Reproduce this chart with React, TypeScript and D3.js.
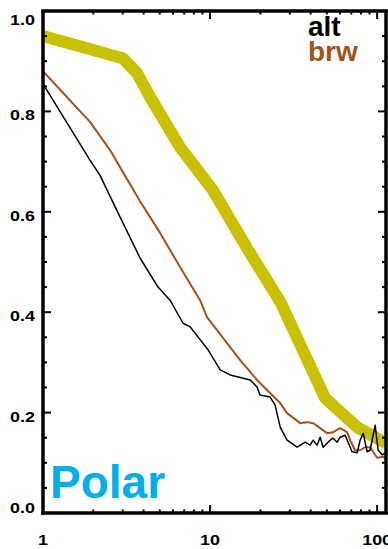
import React from 'react';
import * as d3 from 'd3';

const W = 388;
const H = 549;

// Thick reference band
const bandX = [1, 3.0, 3.66, 4.37, 6.6, 10.4, 16.9, 26.6, 48.8, 75.9, 113];
const bandY = [0.95, 0.906, 0.876, 0.829, 0.729, 0.643, 0.524, 0.418, 0.229, 0.171, 0.139];

// alt series
const altX = [1, 1.91, 2.19, 2.89, 3.81, 4.88, 5.76, 6.89, 7.59, 9.73, 11.5, 13.2, 17.4, 19.1, 19.9, 22.9, 24.5, 26.3, 28.9, 33.2, 37.1, 39.7, 41.4, 43.7, 45.6, 47.5, 52.3, 54.5, 57.6, 60.0, 64.3, 67.0, 70.8, 75.9, 79.1, 82.5, 87.1, 90.8, 97.3, 101.4, 107.2, 114.8];
const altY = [0.855, 0.703, 0.673, 0.59, 0.508, 0.45, 0.424, 0.378, 0.371, 0.325, 0.285, 0.275, 0.265, 0.251, 0.235, 0.231, 0.215, 0.171, 0.145, 0.131, 0.141, 0.135, 0.145, 0.135, 0.151, 0.131, 0.145, 0.149, 0.141, 0.151, 0.155, 0.141, 0.122, 0.12, 0.145, 0.159, 0.122, 0.125, 0.175, 0.125, 0.116, 0.12];

// brw series
const brwX = [1, 1.91, 2.52, 2.89, 3.81, 5.02, 6.61, 8.71, 9.59, 12.6, 15.1, 19.1, 21.9, 26.3, 28.9, 34.6, 38.1, 41.4, 50.2, 54.5, 60.0, 66.1, 68.9, 73.8, 79.1, 84.7, 90.8, 100, 108.6, 114.8];
const brwY = [0.88, 0.779, 0.723, 0.689, 0.621, 0.558, 0.49, 0.424, 0.39, 0.339, 0.305, 0.265, 0.245, 0.219, 0.199, 0.179, 0.181, 0.179, 0.159, 0.161, 0.169, 0.161, 0.145, 0.125, 0.125, 0.131, 0.131, 0.11, 0.112, 0.106];

const yMajor = [0, 0.2, 0.4, 0.6, 0.8, 1.0];
const yMinor = d3.range(0, 1.0001, 0.05);
const xMajor = [1, 10, 100];
const xMinor = [2, 3, 4, 5, 6, 7, 8, 9, 20, 30, 40, 50, 60, 70, 80, 90];

const seriesNames = ['alt', 'brw'];
const seriesColors = ['#000000', '#a3521c'];
const bandColor = '#c8c000';
const titleText = 'Polar';

const left = 43;
const right = 386;
const top = 11;
const bottom = 513;

export default function App() {
  const x = d3.scaleLog().domain([1, 113]).range([left, right]);
  const y = d3.scaleLinear().domain([0, 1]).range([bottom, top]);

  const line = d3
    .line<[number, number]>()
    .x((d) => x(d[0]))
    .y((d) => y(d[1]));

  const zip = (a: number[], b: number[]) => a.map((v, i) => [v, b[i]] as [number, number]);

  const font = '"Liberation Sans", Arial, Helvetica, sans-serif';
  const isMajorY = (v: number) => yMajor.some((m) => Math.abs(m - v) < 1e-6);

  return (
    <svg
      width={W}
      height={H}
      style={{ position: 'absolute', left: 0, top: 0, background: '#fff' }}
    >
      <defs>
        <clipPath id="plot">
          <rect x={left} y={0} width={W - left} height={bottom} />
        </clipPath>
      </defs>

      <g clipPath="url(#plot)">
        <path
          d={line(zip(bandX, bandY)) || ''}
          fill="none"
          stroke={bandColor}
          strokeWidth={12}
          strokeLinejoin="round"
        />
        <path
          d={line(zip(brwX, brwY)) || ''}
          fill="none"
          stroke={seriesColors[1]}
          strokeWidth={2}
          strokeLinejoin="round"
        />
        <path
          d={line(zip(altX, altY)) || ''}
          fill="none"
          stroke={seriesColors[0]}
          strokeWidth={1.5}
          strokeLinejoin="round"
        />
      </g>

      {/* frame */}
      <g stroke="#000" strokeWidth={3.5} fill="none">
        <line x1={left} x2={left} y1={top} y2={bottom + 1.75} />
        <line x1={right} x2={right} y1={top} y2={bottom} />
        <line x1={left - 1.75} x2={right + 2} y1={top} y2={top} />
        <line x1={left - 1.75} x2={right + 2} y1={bottom} y2={bottom} />
      </g>

      {/* y ticks, left and right */}
      <g stroke="#000" strokeWidth={2}>
        {yMinor.map((v, i) => {
          const len = isMajorY(v) ? 8 : 4;
          return (
            <g key={i}>
              <line x1={left} x2={left + len} y1={y(v)} y2={y(v)} />
              <line x1={right} x2={right - len} y1={y(v)} y2={y(v)} />
            </g>
          );
        })}
      </g>

      {/* x ticks, bottom and top */}
      <g stroke="#000" strokeWidth={2}>
        {xMajor.concat(xMinor).map((v, i) => {
          const len = xMajor.includes(v) ? 8 : 3.5;
          return (
            <g key={i}>
              <line x1={x(v)} x2={x(v)} y1={bottom} y2={bottom - len} />
              <line x1={x(v)} x2={x(v)} y1={top} y2={top + len} />
            </g>
          );
        })}
      </g>

      {/* y labels */}
      <g fontFamily={font} fontWeight="bold" fontSize={14} fill="#000">
        {yMajor.map((v, i) => {
          const by = Math.min(Math.max(y(v) + 9, 25), bottom);
          return (
            <text key={i} textAnchor="end" transform={`translate(35,${by}) scale(1.28,1)`}>
              {d3.format('.1f')(v)}
            </text>
          );
        })}
      </g>

      {/* x labels */}
      <g fontFamily={font} fontWeight="bold" fontSize={14} fill="#000">
        {xMajor.map((v, i) => (
          <text key={i} textAnchor="middle" transform={`translate(${x(v)},545) scale(1.28,1)`}>
            {String(v)}
          </text>
        ))}
      </g>

      {/* legend */}
      <g fontFamily={font} fontWeight="bold" fontSize={28}>
        {seriesNames.map((n, i) => (
          <text key={n} x={308} y={36 + i * 25} fill={seriesColors[i]}>
            {n}
          </text>
        ))}
      </g>

      <text x={50} y={498} fontFamily={font} fontWeight="bold" fontSize={46} fill="#00aeef">
        {titleText}
      </text>
    </svg>
  );
}
